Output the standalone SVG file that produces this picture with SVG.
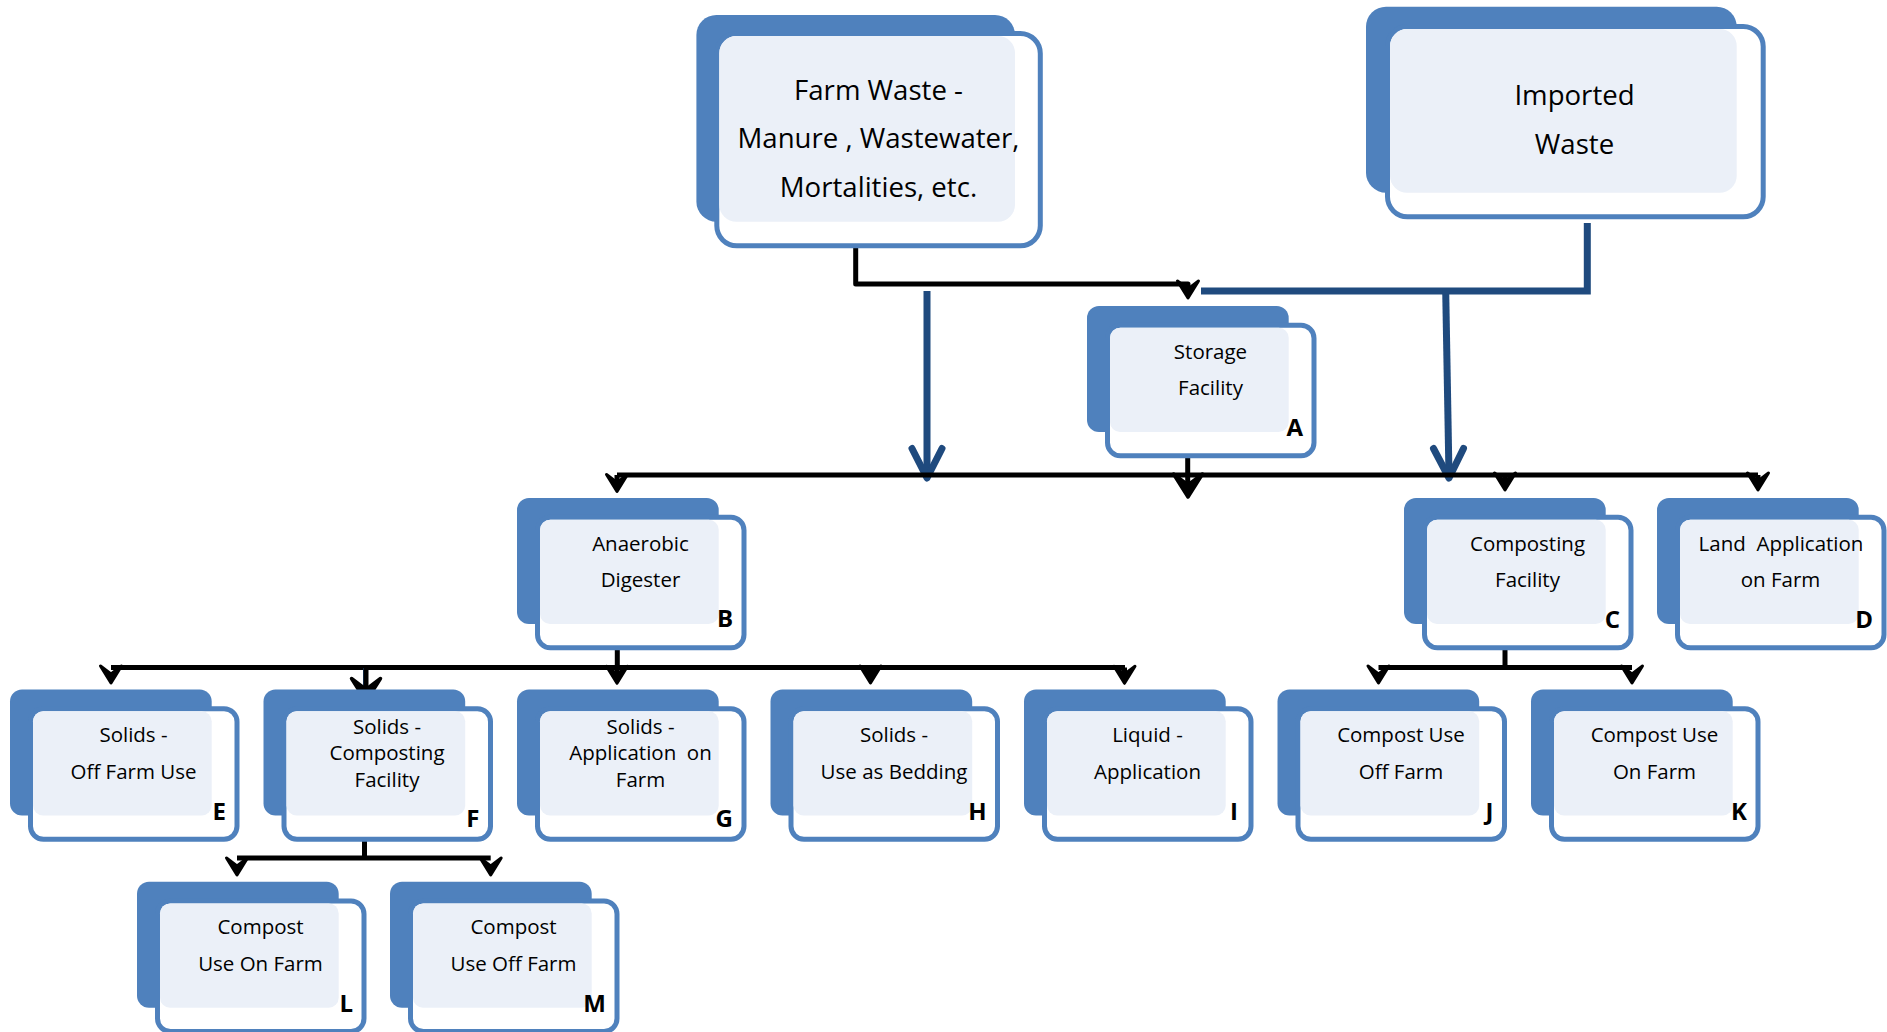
<svg xmlns="http://www.w3.org/2000/svg" xmlns:xlink="http://www.w3.org/1999/xlink" width="1887" height="1032" viewBox="0 0 1887 1032">
<style>
.bk{fill:#4F81BD}
.fr{fill:#FFFFFF;stroke:#4F81BD;stroke-width:5}
.lt{fill:#EBF0F8}
.t{font-family:"Open Sans","Liberation Sans",sans-serif;font-size:20.5px;fill:#000;text-anchor:middle}
.tb{font-family:"Open Sans","Liberation Sans",sans-serif;font-size:27.6px;fill:#000;text-anchor:middle}
.lbl{font-family:"Open Sans","Liberation Sans",sans-serif;font-size:24px;font-weight:bold;fill:#000;text-anchor:end}
.blk{fill:none;stroke:#000;stroke-width:5;stroke-linejoin:round}
.gry{fill:none;stroke:#E3E3E3;stroke-width:5}
.blu{fill:none;stroke:#1F4A7E;stroke-width:7}
.bluh{fill:none;stroke:#1F4A7E;stroke-width:7;stroke-linecap:round;stroke-linejoin:round}
</style>
<defs>
<path id="ah" d="M-10.5,-17 L0,0 L10.5,-17 L0,-9 Z" fill="#000" stroke="#000" stroke-width="3" stroke-linejoin="round"/>
<path id="ahb" d="M-14.5,-23 L0,0 L14.5,-23 L0,-12 Z" fill="#000" stroke="#000" stroke-width="3.5" stroke-linejoin="round"/>
</defs>

<g id="connectors">
<line class="gry" x1="855.7" y1="228" x2="855.7" y2="246"/>
<path class="blk" d="M855.7,246 V284 H1188 V296"/>
<use xlink:href="#ah" x="1188" y="298"/>
<path class="blu" d="M1587.3,223 V291 H1201"/>
<path class="blu" d="M1445.7,291 L1449,476"/>
<path class="bluh" d="M1433.5,448.5 L1449,478 L1463.5,448.5"/>
<path class="blu" d="M927,291 V476"/>
<path class="bluh" d="M912,448.5 L927,478 L942,448.5"/>
<path class="blk" d="M617,475 H1758"/>
<line class="gry" x1="1187.7" y1="438" x2="1187.7" y2="455"/>
<path class="blk" d="M1187.7,455 V492"/>
<use xlink:href="#ahb" x="1188" y="497"/>
<path class="blk" d="M617,475 V488"/>
<use xlink:href="#ah" x="617" y="491.5"/>
<path class="blk" d="M1505,475 V487"/>
<use xlink:href="#ah" x="1505" y="490"/>
<path class="blk" d="M1758,475 V487"/>
<use xlink:href="#ah" x="1758" y="490"/>
<line class="gry" x1="617.3" y1="630" x2="617.3" y2="647"/>
<path class="blk" d="M617.3,647 V667.5"/>
<path class="blk" d="M111,667.5 H1125"/>
<use xlink:href="#ah" x="111" y="683"/>
<line x1="365" y1="668" x2="365" y2="690" stroke="#1F4A7E" stroke-width="4"/>
<path class="blk" d="M366,667.5 V697"/>
<use xlink:href="#ahb" x="366" y="701.5"/>
<path class="blk" d="M617,667.5 V680"/>
<use xlink:href="#ah" x="617" y="683.3"/>
<path class="blk" d="M870.5,667.5 V680"/>
<use xlink:href="#ah" x="870.5" y="683"/>
<path class="blk" d="M1124.5,667.5 V680"/>
<use xlink:href="#ah" x="1124.5" y="683.3"/>
<line class="gry" x1="1505" y1="630" x2="1505" y2="648"/>
<path class="blk" d="M1505,648 V667.5"/>
<path class="blk" d="M1378.5,667.5 H1632"/>
<use xlink:href="#ah" x="1378.5" y="683"/>
<use xlink:href="#ah" x="1632" y="683"/>
<line class="gry" x1="364.5" y1="822" x2="364.5" y2="840"/>
<path class="blk" d="M364.5,840 V858"/>
<path class="blk" d="M237,858 H490.7"/>
<use xlink:href="#ah" x="237" y="875"/>
<use xlink:href="#ah" x="490.7" y="875"/>
</g>

<g id="node-farm" transform="translate(696.4,15)">
<rect class="bk" x="0" y="0" width="318.6" height="206.7" rx="20"/>
<rect class="fr" x="20.4" y="18.5" width="323.5" height="212.3" rx="20"/>
<rect class="lt" x="22.9" y="21" width="295.7" height="185.7" rx="17"/>
<text class="tb" x="182.1" y="85">Farm Waste -</text>
<text class="tb" x="182.1" y="133">Manure , Wastewater,</text>
<text class="tb" x="182.1" y="182">Mortalities, etc.</text>
</g>

<g id="node-imported" transform="translate(1366,6.7)">
<rect class="bk" x="0" y="0" width="370.7" height="186" rx="20"/>
<rect class="fr" x="21.5" y="19.8" width="375.7" height="190.3" rx="20"/>
<rect class="lt" x="24" y="22.3" width="346.7" height="163.7" rx="17"/>
<text class="tb" x="208.5" y="98.3">Imported</text>
<text class="tb" x="208.5" y="147.3">Waste</text>
</g>

<g id="node-A" transform="translate(1087,306)">
<rect class="bk" width="201.7" height="126" rx="12"/>
<rect class="fr" x="20.5" y="19.2" width="206.5" height="130.6" rx="13"/>
<rect class="lt" x="23" y="21.7" width="178.7" height="104.3" rx="10"/>
<text class="t" x="123.5" y="52.5">Storage</text>
<text class="t" x="123.5" y="89">Facility</text>
<text class="lbl" x="216" y="130">A</text>
</g>

<g id="node-B" transform="translate(517,498)">
<rect class="bk" width="201.7" height="126" rx="12"/>
<rect class="fr" x="20.5" y="19.2" width="206.5" height="130.6" rx="13"/>
<rect class="lt" x="23" y="21.7" width="178.7" height="104.3" rx="10"/>
<text class="t" x="123.5" y="52.5">Anaerobic</text>
<text class="t" x="123.5" y="89">Digester</text>
<text class="lbl" x="216" y="129">B</text>
</g>

<g id="node-C" transform="translate(1404,498)">
<rect class="bk" width="201.7" height="126" rx="12"/>
<rect class="fr" x="20.5" y="19.2" width="206.5" height="130.6" rx="13"/>
<rect class="lt" x="23" y="21.7" width="178.7" height="104.3" rx="10"/>
<text class="t" x="123.5" y="52.5">Composting</text>
<text class="t" x="123.5" y="89">Facility</text>
<text class="lbl" x="216" y="129.5">C</text>
</g>

<g id="node-D" transform="translate(1657,498)">
<rect class="bk" width="201.7" height="126" rx="12"/>
<rect class="fr" x="20.5" y="19.2" width="206.5" height="130.6" rx="13"/>
<rect class="lt" x="23" y="21.7" width="178.7" height="104.3" rx="10"/>
<text class="t" x="124" y="52.5" xml:space="preserve">Land  Application</text>
<text class="t" x="123.5" y="89">on Farm</text>
<text class="lbl" x="216" y="129.5">D</text>
</g>

<g id="node-E" transform="translate(10,689.5)">
<rect class="bk" width="201.7" height="126" rx="12"/>
<rect class="fr" x="20.5" y="19.2" width="206.5" height="130.6" rx="13"/>
<rect class="lt" x="23" y="21.7" width="178.7" height="104.3" rx="10"/>
<text class="t" x="123.5" y="52.5">Solids -</text>
<text class="t" x="123.5" y="89">Off Farm Use</text>
<text class="lbl" x="216" y="130">E</text>
</g>

<g id="node-F" transform="translate(263.5,689.5)">
<rect class="bk" width="201.7" height="126" rx="12"/>
<rect class="fr" x="20.5" y="19.2" width="206.5" height="130.6" rx="13"/>
<rect class="lt" x="23" y="21.7" width="178.7" height="104.3" rx="10"/>
<text class="t" x="123.5" y="44">Solids -</text>
<text class="t" x="123.5" y="70.7">Composting</text>
<text class="t" x="123.5" y="97.4">Facility</text>
<text class="lbl" x="216" y="137.5">F</text>
</g>

<g id="node-G" transform="translate(517,689.5)">
<rect class="bk" width="201.7" height="126" rx="12"/>
<rect class="fr" x="20.5" y="19.2" width="206.5" height="130.6" rx="13"/>
<rect class="lt" x="23" y="21.7" width="178.7" height="104.3" rx="10"/>
<text class="t" x="123.5" y="44">Solids -</text>
<text class="t" x="123.5" y="70.7" xml:space="preserve">Application  on</text>
<text class="t" x="123.5" y="97.4">Farm</text>
<text class="lbl" x="216" y="137.5">G</text>
</g>

<g id="node-H" transform="translate(770.5,689.5)">
<rect class="bk" width="201.7" height="126" rx="12"/>
<rect class="fr" x="20.5" y="19.2" width="206.5" height="130.6" rx="13"/>
<rect class="lt" x="23" y="21.7" width="178.7" height="104.3" rx="10"/>
<text class="t" x="123.5" y="52.5">Solids -</text>
<text class="t" x="123.5" y="89">Use as Bedding</text>
<text class="lbl" x="216" y="130.5">H</text>
</g>

<g id="node-I" transform="translate(1024,689.5)">
<rect class="bk" width="201.7" height="126" rx="12"/>
<rect class="fr" x="20.5" y="19.2" width="206.5" height="130.6" rx="13"/>
<rect class="lt" x="23" y="21.7" width="178.7" height="104.3" rx="10"/>
<text class="t" x="123.5" y="52.5">Liquid -</text>
<text class="t" x="123.5" y="89">Application</text>
<text class="lbl" x="214" y="130">I</text>
</g>

<g id="node-J" transform="translate(1277.5,689.5)">
<rect class="bk" width="201.7" height="126" rx="12"/>
<rect class="fr" x="20.5" y="19.2" width="206.5" height="130.6" rx="13"/>
<rect class="lt" x="23" y="21.7" width="178.7" height="104.3" rx="10"/>
<text class="t" x="123.5" y="52.5">Compost Use</text>
<text class="t" x="123.5" y="89">Off Farm</text>
<text class="lbl" x="216" y="130">J</text>
</g>

<g id="node-K" transform="translate(1531,689.5)">
<rect class="bk" width="201.7" height="126" rx="12"/>
<rect class="fr" x="20.5" y="19.2" width="206.5" height="130.6" rx="13"/>
<rect class="lt" x="23" y="21.7" width="178.7" height="104.3" rx="10"/>
<text class="t" x="123.5" y="52.5">Compost Use</text>
<text class="t" x="123.5" y="89">On Farm</text>
<text class="lbl" x="216" y="130">K</text>
</g>

<g id="node-L" transform="translate(137,881.7)">
<rect class="bk" width="201.7" height="126" rx="12"/>
<rect class="fr" x="20.5" y="19.2" width="206.5" height="130.6" rx="13"/>
<rect class="lt" x="23" y="21.7" width="178.7" height="104.3" rx="10"/>
<text class="t" x="123.5" y="52.5">Compost</text>
<text class="t" x="123.5" y="89">Use On Farm</text>
<text class="lbl" x="216" y="130">L</text>
</g>

<g id="node-M" transform="translate(390,881.7)">
<rect class="bk" width="201.7" height="126" rx="12"/>
<rect class="fr" x="20.5" y="19.2" width="206.5" height="130.6" rx="13"/>
<rect class="lt" x="23" y="21.7" width="178.7" height="104.3" rx="10"/>
<text class="t" x="123.5" y="52.5">Compost</text>
<text class="t" x="123.5" y="89">Use Off Farm</text>
<text class="lbl" x="216" y="130">M</text>
</g>
</svg>
